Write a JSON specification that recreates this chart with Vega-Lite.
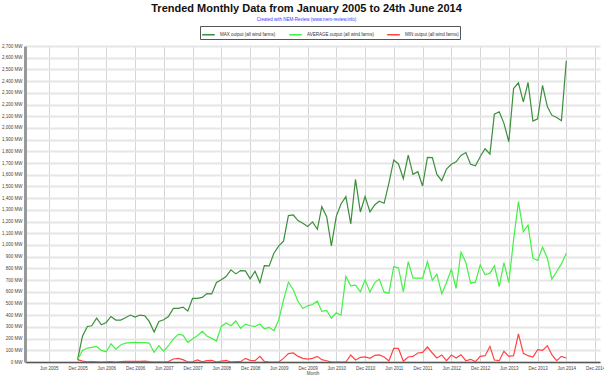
{
  "$schema": "https://vega.github.io/schema/vega-lite/v6.json",
  "width": 575,
  "height": 316,
  "autosize": "none",
  "padding": {"left": 25, "top": 46, "right": 4, "bottom": 17},
  "background": "white",
  "title": {
    "text": "Trended Monthly Data from January 2005 to 24th June 2014",
    "subtitle": "Created with NEM-Review (www.nem-review.info)",
    "font": "Liberation Sans",
    "fontSize": 11,
    "fontWeight": "bold",
    "color": "#111111",
    "subtitleFont": "Liberation Sans",
    "subtitleFontSize": 4.5,
    "subtitleColor": "#3333ff",
    "subtitlePadding": 3,
    "anchor": "middle",
    "offset": 4,
    "dx": -6
  },
  "data": {
    "values": [
      {"month": "2005-12-01", "max": 20, "avg": 20, "min": 20},
      {"month": "2006-01-01", "max": 220, "avg": 99, "min": 8},
      {"month": "2006-02-01", "max": 304, "avg": 119, "min": 2},
      {"month": "2006-03-01", "max": 310, "avg": 125, "min": 3},
      {"month": "2006-04-01", "max": 375, "avg": 133, "min": 2},
      {"month": "2006-05-01", "max": 318, "avg": 99, "min": 0},
      {"month": "2006-06-01", "max": 338, "avg": 88, "min": 2},
      {"month": "2006-07-01", "max": 389, "avg": 156, "min": 3},
      {"month": "2006-08-01", "max": 358, "avg": 110, "min": 0},
      {"month": "2006-09-01", "max": 358, "avg": 145, "min": 3},
      {"month": "2006-10-01", "max": 378, "avg": 162, "min": 5},
      {"month": "2006-11-01", "max": 401, "avg": 165, "min": 5},
      {"month": "2006-12-01", "max": 384, "avg": 168, "min": 5},
      {"month": "2007-01-01", "max": 401, "avg": 165, "min": 5},
      {"month": "2007-02-01", "max": 395, "avg": 165, "min": 8},
      {"month": "2007-03-01", "max": 347, "avg": 162, "min": 3},
      {"month": "2007-04-01", "max": 256, "avg": 82, "min": 0},
      {"month": "2007-05-01", "max": 347, "avg": 139, "min": 2},
      {"month": "2007-06-01", "max": 361, "avg": 93, "min": 0},
      {"month": "2007-07-01", "max": 389, "avg": 139, "min": 3},
      {"month": "2007-08-01", "max": 458, "avg": 196, "min": 26},
      {"month": "2007-09-01", "max": 458, "avg": 236, "min": 31},
      {"month": "2007-10-01", "max": 469, "avg": 230, "min": 20},
      {"month": "2007-11-01", "max": 435, "avg": 168, "min": 0},
      {"month": "2007-12-01", "max": 543, "avg": 196, "min": 2},
      {"month": "2008-01-01", "max": 543, "avg": 225, "min": 18},
      {"month": "2008-02-01", "max": 552, "avg": 262, "min": 2},
      {"month": "2008-03-01", "max": 585, "avg": 222, "min": 12},
      {"month": "2008-04-01", "max": 582, "avg": 202, "min": 14},
      {"month": "2008-05-01", "max": 679, "avg": 179, "min": 0},
      {"month": "2008-06-01", "max": 702, "avg": 304, "min": 8},
      {"month": "2008-07-01", "max": 730, "avg": 333, "min": 14},
      {"month": "2008-08-01", "max": 787, "avg": 310, "min": 0},
      {"month": "2008-09-01", "max": 753, "avg": 350, "min": 3},
      {"month": "2008-10-01", "max": 781, "avg": 287, "min": 3},
      {"month": "2008-11-01", "max": 779, "avg": 324, "min": 31},
      {"month": "2008-12-01", "max": 711, "avg": 310, "min": 14},
      {"month": "2009-01-01", "max": 776, "avg": 304, "min": 11},
      {"month": "2009-02-01", "max": 679, "avg": 324, "min": 48},
      {"month": "2009-03-01", "max": 824, "avg": 284, "min": 5},
      {"month": "2009-04-01", "max": 821, "avg": 296, "min": 0},
      {"month": "2009-05-01", "max": 930, "avg": 267, "min": 0},
      {"month": "2009-06-01", "max": 992, "avg": 361, "min": 0},
      {"month": "2009-07-01", "max": 1032, "avg": 531, "min": 31},
      {"month": "2009-08-01", "max": 1251, "avg": 682, "min": 71},
      {"month": "2009-09-01", "max": 1256, "avg": 617, "min": 77},
      {"month": "2009-10-01", "max": 1208, "avg": 517, "min": 48},
      {"month": "2009-11-01", "max": 1185, "avg": 457, "min": 31},
      {"month": "2009-12-01", "max": 1157, "avg": 480, "min": 25},
      {"month": "2010-01-01", "max": 1197, "avg": 491, "min": 31},
      {"month": "2010-02-01", "max": 1134, "avg": 520, "min": 48},
      {"month": "2010-03-01", "max": 1327, "avg": 432, "min": 20},
      {"month": "2010-04-01", "max": 1242, "avg": 440, "min": 11},
      {"month": "2010-05-01", "max": 992, "avg": 374, "min": 0},
      {"month": "2010-06-01", "max": 1245, "avg": 420, "min": 0},
      {"month": "2010-07-01", "max": 1350, "avg": 400, "min": 0},
      {"month": "2010-08-01", "max": 1413, "avg": 730, "min": 0},
      {"month": "2010-09-01", "max": 1180, "avg": 651, "min": 60},
      {"month": "2010-10-01", "max": 1561, "avg": 657, "min": 17},
      {"month": "2010-11-01", "max": 1282, "avg": 600, "min": 40},
      {"month": "2010-12-01", "max": 1413, "avg": 702, "min": 43},
      {"month": "2011-01-01", "max": 1282, "avg": 597, "min": 31},
      {"month": "2011-02-01", "max": 1344, "avg": 679, "min": 57},
      {"month": "2011-03-01", "max": 1373, "avg": 708, "min": 60},
      {"month": "2011-04-01", "max": 1356, "avg": 597, "min": 43},
      {"month": "2011-05-01", "max": 1527, "avg": 588, "min": 9},
      {"month": "2011-06-01", "max": 1726, "avg": 815, "min": 116},
      {"month": "2011-07-01", "max": 1692, "avg": 804, "min": 116},
      {"month": "2011-08-01", "max": 1566, "avg": 600, "min": 6},
      {"month": "2011-09-01", "max": 1768, "avg": 858, "min": 43},
      {"month": "2011-10-01", "max": 1603, "avg": 716, "min": 48},
      {"month": "2011-11-01", "max": 1626, "avg": 716, "min": 77},
      {"month": "2011-12-01", "max": 1504, "avg": 716, "min": 82},
      {"month": "2012-01-01", "max": 1749, "avg": 858, "min": 128},
      {"month": "2012-02-01", "max": 1746, "avg": 697, "min": 77},
      {"month": "2012-03-01", "max": 1603, "avg": 750, "min": 34},
      {"month": "2012-04-01", "max": 1549, "avg": 582, "min": 60},
      {"month": "2012-05-01", "max": 1649, "avg": 679, "min": 11},
      {"month": "2012-06-01", "max": 1689, "avg": 793, "min": 60},
      {"month": "2012-07-01", "max": 1711, "avg": 628, "min": 34},
      {"month": "2012-08-01", "max": 1765, "avg": 938, "min": 62},
      {"month": "2012-09-01", "max": 1790, "avg": 850, "min": 11},
      {"month": "2012-10-01", "max": 1690, "avg": 674, "min": 23},
      {"month": "2012-11-01", "max": 1677, "avg": 682, "min": 3},
      {"month": "2012-12-01", "max": 1754, "avg": 830, "min": 48},
      {"month": "2013-01-01", "max": 1822, "avg": 745, "min": 54},
      {"month": "2013-02-01", "max": 1777, "avg": 759, "min": 133},
      {"month": "2013-03-01", "max": 2118, "avg": 821, "min": 17},
      {"month": "2013-04-01", "max": 2138, "avg": 645, "min": 11},
      {"month": "2013-05-01", "max": 2039, "avg": 850, "min": 91},
      {"month": "2013-06-01", "max": 1882, "avg": 679, "min": 48},
      {"month": "2013-07-01", "max": 2337, "avg": 1043, "min": 54},
      {"month": "2013-08-01", "max": 2385, "avg": 1370, "min": 241},
      {"month": "2013-09-01", "max": 2223, "avg": 1114, "min": 74},
      {"month": "2013-10-01", "max": 2388, "avg": 1171, "min": 54},
      {"month": "2013-11-01", "max": 2058, "avg": 887, "min": 42},
      {"month": "2013-12-01", "max": 2078, "avg": 867, "min": 105},
      {"month": "2014-01-01", "max": 2363, "avg": 981, "min": 99},
      {"month": "2014-02-01", "max": 2180, "avg": 887, "min": 139},
      {"month": "2014-03-01", "max": 2109, "avg": 708, "min": 62},
      {"month": "2014-04-01", "max": 2089, "avg": 773, "min": 11},
      {"month": "2014-05-01", "max": 2061, "avg": 838, "min": 48},
      {"month": "2014-06-01", "max": 2573, "avg": 930, "min": 34}
    ]
  },
  "transform": [
    {"fold": ["max", "avg", "min"], "as": ["series", "value"]}
  ],
  "mark": {"type": "line", "strokeWidth": 1.2, "clip": true},
  "encoding": {
    "x": {
      "field": "month",
      "type": "temporal",
      "scale": {
        "type": "utc",
        "domain": [
          {"year": 2005, "month": 1, "date": 1, "utc": true},
          {"year": 2015, "month": 1, "date": 1, "utc": true}
        ]
      },
      "axis": {
        "values": [
          {"year": 2005, "month": 6, "date": 1, "utc": true},
          {"year": 2005, "month": 12, "date": 1, "utc": true},
          {"year": 2006, "month": 6, "date": 1, "utc": true},
          {"year": 2006, "month": 12, "date": 1, "utc": true},
          {"year": 2007, "month": 6, "date": 1, "utc": true},
          {"year": 2007, "month": 12, "date": 1, "utc": true},
          {"year": 2008, "month": 6, "date": 1, "utc": true},
          {"year": 2008, "month": 12, "date": 1, "utc": true},
          {"year": 2009, "month": 6, "date": 1, "utc": true},
          {"year": 2009, "month": 12, "date": 1, "utc": true},
          {"year": 2010, "month": 6, "date": 1, "utc": true},
          {"year": 2010, "month": 12, "date": 1, "utc": true},
          {"year": 2011, "month": 6, "date": 1, "utc": true},
          {"year": 2011, "month": 12, "date": 1, "utc": true},
          {"year": 2012, "month": 6, "date": 1, "utc": true},
          {"year": 2012, "month": 12, "date": 1, "utc": true},
          {"year": 2013, "month": 6, "date": 1, "utc": true},
          {"year": 2013, "month": 12, "date": 1, "utc": true},
          {"year": 2014, "month": 6, "date": 1, "utc": true},
          {"year": 2014, "month": 12, "date": 1, "utc": true}
        ],
        "labelExpr": "utcFormat(datum.value, '%b %Y')",
        "title": "Month",
        "titleFont": "Liberation Sans",
        "titleFontSize": 4.5,
        "titleFontWeight": "normal",
        "titleColor": "#444444",
        "titlePadding": 1,
        "labelFont": "Liberation Sans",
        "labelFontSize": 4.5,
        "labelColor": "#444444",
        "labelPadding": 3,
        "labelOverlap": false,
        "labelFlush": false,
        "ticks": false,
        "grid": true,
        "gridColor": "#d6d6d6",
        "gridWidth": 1,
        "domainColor": "#555555",
        "domainWidth": 1.5
      }
    },
    "y": {
      "field": "value",
      "type": "quantitative",
      "scale": {"domain": [0, 2700], "nice": false, "zero": true},
      "axis": {
        "values": [0, 100, 200, 300, 400, 500, 600, 700, 800, 900, 1000, 1100, 1200, 1300, 1400, 1500, 1600, 1700, 1800, 1900, 2000, 2100, 2200, 2300, 2400, 2500, 2600, 2700],
        "labelExpr": "format(datum.value, ',') + ' MW'",
        "title": null,
        "labelFont": "Liberation Sans",
        "labelFontSize": 4.5,
        "labelColor": "#444444",
        "labelPadding": 3,
        "labelOverlap": false,
        "ticks": false,
        "grid": true,
        "gridColor": "#e6e6e6",
        "gridWidth": 2,
        "domainColor": "#999999",
        "domainWidth": 3
      }
    },
    "color": {
      "field": "series",
      "type": "nominal",
      "scale": {"domain": ["max", "avg", "min"], "range": ["#3b8f3b", "#44f044", "#ff4444"]},
      "legend": {
        "orient": "none",
        "legendX": 175,
        "legendY": -20,
        "direction": "horizontal",
        "title": null,
        "symbolType": "stroke",
        "symbolSize": 160,
        "symbolStrokeWidth": 1.5,
        "labelFont": "Liberation Sans",
        "labelFontSize": 4.5,
        "labelColor": "#333333",
        "labelExpr": "datum.label == 'max' ? 'MAX output (all wind farms)' : datum.label == 'avg' ? 'AVERAGE output (all wind farms)' : 'MIN output (all wind farms)'",
        "columnPadding": 10,
        "padding": 1,
        "strokeColor": "#555555",
        "fillColor": "#ffffff",
        "cornerRadius": 0
      }
    }
  },
  "config": {
    "view": {"stroke": null}
  }
}
